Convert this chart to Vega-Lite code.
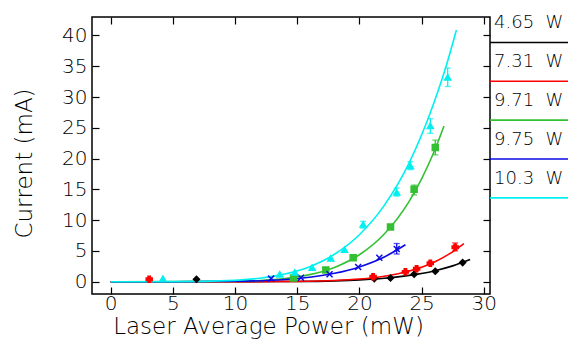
{
  "$schema": "https://vega.github.io/schema/vega-lite/v6.json",
  "padding": {"left": 12, "top": 14, "right": 0, "bottom": 2},
  "spacing": 0,
  "bounds": "flush",
  "background": "white",
  "config": {
    "view": {"stroke": null},
    "font": "DejaVu Sans",
    "axis": {
      "grid": false,
      "domain": false,
      "tickColor": "black",
      "tickWidth": 1.2,
      "tickSize": 7,
      "offset": -7,
      "labelColor": "black",
      "titleColor": "black",
      "labelFont": "DejaVu Sans",
      "titleFont": "DejaVu Sans",
      "labelFontWeight": 200,
      "titleFontWeight": 200,
      "labelFontSize": 20,
      "titleFontSize": 23
    }
  },
  "datasets": {
    "pts": [
      {"s": "4.65 W", "x": 6.9, "y": 0.4},
      {"s": "4.65 W", "x": 21.2, "y": 0.5},
      {"s": "4.65 W", "x": 22.5, "y": 0.6},
      {"s": "4.65 W", "x": 24.4, "y": 1.2},
      {"s": "4.65 W", "x": 26.1, "y": 1.7},
      {"s": "4.65 W", "x": 28.3, "y": 3.1},
      {"s": "7.31 W", "x": 3.1, "y": 0.4},
      {"s": "7.31 W", "x": 21.1, "y": 0.8},
      {"s": "7.31 W", "x": 23.7, "y": 1.6},
      {"s": "7.31 W", "x": 24.6, "y": 2.1},
      {"s": "7.31 W", "x": 25.7, "y": 3.0},
      {"s": "7.31 W", "x": 27.7, "y": 5.6},
      {"s": "9.71 W", "x": 14.7, "y": 0.6},
      {"s": "9.71 W", "x": 17.3, "y": 1.9},
      {"s": "9.71 W", "x": 19.5, "y": 3.9},
      {"s": "9.71 W", "x": 22.5, "y": 8.9},
      {"s": "9.71 W", "x": 24.4, "y": 15.0},
      {"s": "9.71 W", "x": 26.1, "y": 21.8},
      {"s": "9.75 W", "x": 12.9, "y": 0.5},
      {"s": "9.75 W", "x": 15.3, "y": 0.65},
      {"s": "9.75 W", "x": 17.6, "y": 1.2},
      {"s": "9.75 W", "x": 19.9, "y": 2.4},
      {"s": "9.75 W", "x": 21.6, "y": 3.9},
      {"s": "9.75 W", "x": 23.0, "y": 5.3},
      {"s": "10.3 W", "x": 4.2, "y": 0.5},
      {"s": "10.3 W", "x": 13.6, "y": 1.2},
      {"s": "10.3 W", "x": 14.8, "y": 1.5},
      {"s": "10.3 W", "x": 16.2, "y": 2.3},
      {"s": "10.3 W", "x": 17.7, "y": 3.8},
      {"s": "10.3 W", "x": 18.8, "y": 5.2},
      {"s": "10.3 W", "x": 20.3, "y": 9.3},
      {"s": "10.3 W", "x": 23.0, "y": 14.5},
      {"s": "10.3 W", "x": 24.1, "y": 18.8},
      {"s": "10.3 W", "x": 25.7, "y": 25.3},
      {"s": "10.3 W", "x": 27.1, "y": 33.2}
    ],
    "errs": [
      {"s": "7.31 W", "x": 27.7, "lo": 5.0, "hi": 6.3},
      {"s": "9.71 W", "x": 24.4, "lo": 14.1, "hi": 15.7},
      {"s": "9.71 W", "x": 26.1, "lo": 20.6, "hi": 23.0},
      {"s": "9.75 W", "x": 23.0, "lo": 4.5, "hi": 6.2},
      {"s": "10.3 W", "x": 20.3, "lo": 8.7, "hi": 9.8},
      {"s": "10.3 W", "x": 23.0, "lo": 13.9, "hi": 15.2},
      {"s": "10.3 W", "x": 24.1, "lo": 18.2, "hi": 19.5},
      {"s": "10.3 W", "x": 25.7, "lo": 24.1, "hi": 26.5},
      {"s": "10.3 W", "x": 27.1, "lo": 31.7, "hi": 34.7}
    ],
    "curves": [
      {"s": "4.65 W", "x": 0, "y": 0},
      {"s": "4.65 W", "x": 5, "y": 0},
      {"s": "4.65 W", "x": 10, "y": 0.003},
      {"s": "4.65 W", "x": 15, "y": 0.04},
      {"s": "4.65 W", "x": 18, "y": 0.14},
      {"s": "4.65 W", "x": 20, "y": 0.29},
      {"s": "4.65 W", "x": 22, "y": 0.56},
      {"s": "4.65 W", "x": 24, "y": 1.02},
      {"s": "4.65 W", "x": 26, "y": 1.75},
      {"s": "4.65 W", "x": 27.5, "y": 2.57},
      {"s": "4.65 W", "x": 28.9, "y": 3.6},
      {"s": "7.31 W", "x": 0, "y": 0},
      {"s": "7.31 W", "x": 10, "y": 0.002},
      {"s": "7.31 W", "x": 15, "y": 0.05},
      {"s": "7.31 W", "x": 18, "y": 0.19},
      {"s": "7.31 W", "x": 20, "y": 0.43},
      {"s": "7.31 W", "x": 22, "y": 0.89},
      {"s": "7.31 W", "x": 24, "y": 1.73},
      {"s": "7.31 W", "x": 26, "y": 3.17},
      {"s": "7.31 W", "x": 27.2, "y": 4.47},
      {"s": "7.31 W", "x": 28.4, "y": 6.2},
      {"s": "9.71 W", "x": 0, "y": 0},
      {"s": "9.71 W", "x": 10, "y": 0.07},
      {"s": "9.71 W", "x": 12, "y": 0.2},
      {"s": "9.71 W", "x": 14, "y": 0.51},
      {"s": "9.71 W", "x": 16, "y": 1.15},
      {"s": "9.71 W", "x": 18, "y": 2.32},
      {"s": "9.71 W", "x": 20, "y": 4.37},
      {"s": "9.71 W", "x": 22, "y": 7.74},
      {"s": "9.71 W", "x": 24, "y": 13.05},
      {"s": "9.71 W", "x": 25, "y": 16.7},
      {"s": "9.71 W", "x": 26, "y": 21.1},
      {"s": "9.71 W", "x": 26.8, "y": 25.3},
      {"s": "9.75 W", "x": 0, "y": 0},
      {"s": "9.75 W", "x": 5, "y": 0.001},
      {"s": "9.75 W", "x": 10, "y": 0.06},
      {"s": "9.75 W", "x": 14, "y": 0.35},
      {"s": "9.75 W", "x": 16, "y": 0.72},
      {"s": "9.75 W", "x": 18, "y": 1.36},
      {"s": "9.75 W", "x": 20, "y": 2.4},
      {"s": "9.75 W", "x": 22, "y": 4.01},
      {"s": "9.75 W", "x": 23.7, "y": 6.0},
      {"s": "10.3 W", "x": 0, "y": 0},
      {"s": "10.3 W", "x": 5, "y": 0.006},
      {"s": "10.3 W", "x": 10, "y": 0.22},
      {"s": "10.3 W", "x": 12, "y": 0.57},
      {"s": "10.3 W", "x": 14, "y": 1.24},
      {"s": "10.3 W", "x": 16, "y": 2.44},
      {"s": "10.3 W", "x": 18, "y": 4.46},
      {"s": "10.3 W", "x": 20, "y": 7.63},
      {"s": "10.3 W", "x": 22, "y": 12.4},
      {"s": "10.3 W", "x": 24, "y": 19.3},
      {"s": "10.3 W", "x": 26, "y": 29.1},
      {"s": "10.3 W", "x": 27, "y": 35.2},
      {"s": "10.3 W", "x": 27.8, "y": 40.9}
    ],
    "legend": [
      {"s": "4.65 W", "label": "4.65\u00a0\u00a0W", "i": 0, "x": 0},
      {"s": "7.31 W", "label": "7.31\u00a0\u00a0W", "i": 1, "x": 0},
      {"s": "9.71 W", "label": "9.71\u00a0\u00a0W", "i": 2, "x": 0},
      {"s": "9.75 W", "label": "9.75\u00a0\u00a0W", "i": 3, "x": 0},
      {"s": "10.3 W", "label": "10.3\u00a0\u00a0W", "i": 4, "x": 0}
    ]
  },
  "hconcat": [
    {
      "width": 398,
      "height": 277,
      "view": {"stroke": "black", "strokeWidth": 1.5},
      "layer": [
        {
          "data": {"name": "curves"},
          "mark": {"type": "line", "interpolate": "monotone", "strokeWidth": 1.6},
          "encoding": {
            "x": {"field": "x", "type": "quantitative",
              "scale": {"domain": [-1.5, 30.5], "nice": false, "zero": false},
              "axis": {"orient": "bottom", "values": [0, 5, 10, 15, 20, 25, 30], "labelPadding": -1, "title": "Laser Average Power (mW)", "titlePadding": 2, "titleX": 176, "titleAlign": "center"}},
            "y": {"field": "y", "type": "quantitative",
              "scale": {"domain": [-2, 43], "nice": false, "zero": false},
              "axis": {"orient": "left", "values": [0, 5, 10, 15, 20, 25, 30, 35, 40], "labelPadding": 5, "title": "Current (mA)", "titlePadding": 25, "titleY": 146, "titleAlign": "center"}},
            "color": {"field": "s", "type": "nominal",
              "scale": {"domain": ["4.65 W", "7.31 W", "9.71 W", "9.75 W", "10.3 W"], "range": ["#000000", "#ff0000", "#33c033", "#0a0ae6", "#00f0f0"]},
              "legend": null}
          }
        },
        {
          "data": {"name": "errs"},
          "mark": {"type": "rule", "strokeWidth": 1.3},
          "encoding": {
            "x": {"field": "x", "type": "quantitative", "axis": null},
            "y": {"field": "lo", "type": "quantitative", "axis": null},
            "y2": {"field": "hi"},
            "color": {"field": "s", "type": "nominal", "legend": null}
          }
        },
        {
          "data": {"name": "errs"},
          "mark": {"type": "tick", "orient": "horizontal", "size": 6, "thickness": 1.3},
          "encoding": {
            "x": {"field": "x", "type": "quantitative", "axis": null},
            "y": {"field": "lo", "type": "quantitative", "axis": null},
            "color": {"field": "s", "type": "nominal", "legend": null}
          }
        },
        {
          "data": {"name": "errs"},
          "mark": {"type": "tick", "orient": "horizontal", "size": 6, "thickness": 1.3},
          "encoding": {
            "x": {"field": "x", "type": "quantitative", "axis": null},
            "y": {"field": "hi", "type": "quantitative", "axis": null},
            "color": {"field": "s", "type": "nominal", "legend": null}
          }
        },
        {
          "data": {"name": "pts"},
          "mark": {"type": "point", "size": 36, "strokeWidth": 1.5, "opacity": 1},
          "encoding": {
            "x": {"field": "x", "type": "quantitative",
              "axis": {"orient": "top", "values": [0, 5, 10, 15, 20, 25, 30], "labels": false, "title": null}},
            "y": {"field": "y", "type": "quantitative",
              "axis": {"orient": "right", "values": [0, 5, 10, 15, 20, 25, 30, 35, 40], "labels": false, "title": null}},
            "shape": {"field": "s", "type": "nominal",
              "scale": {"domain": ["4.65 W", "7.31 W", "9.71 W", "9.75 W", "10.3 W"], "range": ["diamond", "cross", "square", "M-1,-1L1,1M-1,1L1,-1", "triangle-up"]},
              "legend": null},
            "fill": {"field": "s", "type": "nominal",
              "scale": {"domain": ["4.65 W", "7.31 W", "9.71 W", "9.75 W", "10.3 W"], "range": ["#000000", "#ff0000", "#33c033", "#0a0ae6", "#00f0f0"]},
              "legend": null},
            "stroke": {"field": "s", "type": "nominal",
              "scale": {"domain": ["4.65 W", "7.31 W", "9.71 W", "9.75 W", "10.3 W"], "range": ["#000000", "#ff0000", "#33c033", "#0a0ae6", "#00f0f0"]},
              "legend": null}
          }
        }
      ],
      "resolve": {"axis": {"x": "independent", "y": "independent"}}
    },
    {
      "width": 78,
      "height": 277,
      "data": {"name": "legend"},
      "encoding": {
        "y": {"field": "i", "type": "quantitative", "scale": {"domain": [-0.423, 6.705], "reverse": true, "nice": false, "zero": false}, "axis": null},
        "color": {"field": "s", "type": "nominal",
          "scale": {"domain": ["4.65 W", "7.31 W", "9.71 W", "9.75 W", "10.3 W"], "range": ["#000000", "#ff0000", "#33c033", "#0a0ae6", "#00f0f0"]},
          "legend": null}
      },
      "layer": [
        {
          "mark": {"type": "text", "align": "left", "baseline": "middle", "dx": 4, "dy": -10, "fontSize": 18, "fontWeight": 200, "font": "DejaVu Sans"},
          "encoding": {
            "x": {"field": "x", "type": "quantitative", "scale": {"domain": [0, 1], "nice": false}, "axis": null},
            "text": {"field": "label"},
            "color": {"value": "black"}
          }
        },
        {
          "mark": {"type": "rule", "strokeWidth": 1.6, "yOffset": 9},
          "encoding": {}
        }
      ]
    }
  ]
}
